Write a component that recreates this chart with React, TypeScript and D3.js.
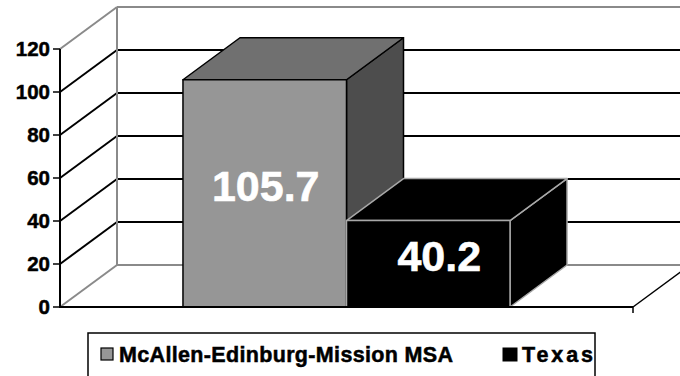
import React from "react";
import * as d3 from "d3";

// Data
const seriesNames = ["McAllen-Edinburg-Mission MSA", "Texas"];
const seriesValues = [105.7, 40.2];
const yTicks = [0, 20, 40, 60, 80, 100, 120];

// Layout
const W = 680;
const H = 376;
const plotLeft = 60;
const plotRight = 633;
const plotBottom = 307;
const plotTop = 49;
const depthX = 57;
const depthY = -42;

const faceFill = ["#969696", "#000000"];
const topFill = ["#707070", "#000000"];
const sideFill = ["#4d4d4d", "#000000"];
const edgeStroke = ["#000000", "#a8a8a8"];
const labelShift = [1, 11];

const FONT = "'Liberation Sans', Arial, Helvetica, sans-serif";

export default function App() {
  const y = d3.scaleLinear().domain([0, 120]).range([plotBottom, plotTop]);
  const x = d3
    .scaleBand<string>()
    .domain(seriesNames)
    .range([plotLeft, plotRight])
    .paddingInner(0)
    .paddingOuter(0.752);

  const backLeft = plotLeft + depthX;
  const backRight = plotRight + depthX;

  const poly = (pts: [number, number][]) => pts.map((p) => p.join(",")).join(" ");

  return (
    <svg
      width={W}
      height={H}
      style={{ position: "absolute", left: 0, top: 0, background: "#fff" }}
      fontFamily={FONT}
    >
      {/* back wall gridlines */}
      {yTicks.map((t) => {
        const edge = t === 0 || t === 120;
        return (
          <g key={"g" + t}>
            <line
              x1={backLeft}
              x2={backRight}
              y1={y(t) + depthY}
              y2={y(t) + depthY}
              stroke={edge ? "#8a8a8a" : "#000"}
              strokeWidth={2}
            />
            <line
              x1={plotLeft}
              y1={y(t)}
              x2={backLeft}
              y2={y(t) + depthY}
              stroke={edge ? "#8a8a8a" : "#000"}
              strokeWidth={2}
            />
          </g>
        );
      })}
      {/* left wall back edge */}
      <line
        x1={backLeft}
        x2={backLeft}
        y1={y(120) + depthY}
        y2={y(0) + depthY}
        stroke="#8a8a8a"
        strokeWidth={2}
      />
      {/* floor right edge */}
      <line
        x1={plotRight}
        y1={y(0)}
        x2={backRight}
        y2={y(0) + depthY}
        stroke="#000"
        strokeWidth={1.5}
      />

      {/* bars */}
      {seriesNames.map((name, i) => {
        const x0 = x(name)!;
        const x1 = x0 + x.bandwidth();
        const yt = y(seriesValues[i]);
        const yb = y(0);
        const st = edgeStroke[i];
        return (
          <g key={name} strokeLinejoin="round">
            <polygon
              points={poly([
                [x1, yt],
                [x1 + depthX, yt + depthY],
                [x1 + depthX, yb + depthY],
                [x1, yb],
              ])}
              fill={sideFill[i]}
              stroke={st}
              strokeWidth={1.5}
            />
            <polygon
              points={poly([
                [x0, yt],
                [x0 + depthX, yt + depthY],
                [x1 + depthX, yt + depthY],
                [x1, yt],
              ])}
              fill={topFill[i]}
              stroke={st}
              strokeWidth={1.5}
            />
            <rect
              x={x0}
              y={yt}
              width={x1 - x0}
              height={yb - yt}
              fill={faceFill[i]}
              stroke={st}
              strokeWidth={1.5}
            />
          </g>
        );
      })}

      {/* value labels */}
      {seriesNames.map((name, i) => {
        const cx = x(name)! + x.bandwidth() / 2 + labelShift[i];
        const mid = (y(seriesValues[i]) + y(0)) / 2;
        return (
          <text
            key={"l" + name}
            x={cx}
            y={mid + 7.5}
            textAnchor="middle"
            fill="#fff"
            stroke="#fff"
            strokeWidth={0.6}
            fontWeight="bold"
            fontSize={43}
          >
            {seriesValues[i]}
          </text>
        );
      })}

      {/* front axes */}
      <line x1={plotLeft} x2={plotLeft} y1={y(120)} y2={y(0)} stroke="#000" strokeWidth={2} />
      <line x1={plotLeft - 1} x2={plotRight} y1={y(0)} y2={y(0)} stroke="#000" strokeWidth={2} />
      <line x1={plotRight} x2={plotRight} y1={y(0)} y2={y(0) + 6} stroke="#000" strokeWidth={1.5} />
      {yTicks.map((t) => (
        <g key={"t" + t}>
          <line x1={plotLeft - 7} x2={plotLeft} y1={y(t)} y2={y(t)} stroke="#000" strokeWidth={1.5} />
          <text
            x={plotLeft - 10}
            y={y(t) + 7.2}
            textAnchor="end"
            fontWeight="bold"
            fontSize={20.5}
            fill="#000"
            stroke="#000"
            strokeWidth={0.5}
          >
            {t}
          </text>
        </g>
      ))}

      {/* legend */}
      <rect x={88} y={333} width={507} height={50} fill="#fff" stroke="#000" strokeWidth={1.5} />
      <rect x={101} y={348} width={12} height={12} fill={faceFill[0]} stroke="#000" strokeWidth={1.2} />
      <text
        x={119}
        y={361.5}
        fontWeight="bold"
        fontSize={21.5}
        stroke="#000"
        strokeWidth={0.5}
        textLength={334}
        lengthAdjust="spacing"
      >
        {seriesNames[0]}
      </text>
      <rect x={503} y={348} width={14} height={13} fill={faceFill[1]} stroke="#000" strokeWidth={1} />
      <text
        x={522}
        y={361.5}
        fontWeight="bold"
        fontSize={21.5}
        stroke="#000"
        strokeWidth={0.5}
        textLength={71}
        lengthAdjust="spacing"
      >
        {seriesNames[1]}
      </text>
    </svg>
  );
}
